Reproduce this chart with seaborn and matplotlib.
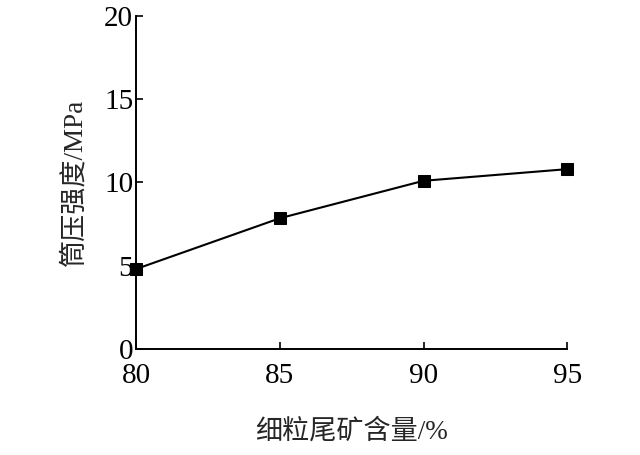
import numpy as np
import pandas as pd
import matplotlib
matplotlib.use("Agg")
import matplotlib.pyplot as plt
import seaborn as sns

# fine tailings content (%) vs cylinder compressive strength (MPa)
fine_content = [80, 85, 90, 95]
strength = [4.8, 7.85, 10.1, 10.8]
x_ticks = [80, 85, 90, 95]
y_ticks = [0, 5, 10, 15, 20]


def main():
    df = pd.DataFrame({"content": fine_content, "strength": strength})

    sns.set_style("ticks")
    plt.rcParams['font.family'] = ['Liberation Serif', 'Noto Sans CJK SC']
    plt.rcParams['xtick.direction'] = 'in'
    plt.rcParams['ytick.direction'] = 'in'

    fig = plt.figure(figsize=(6.4, 4.55), dpi=100)
    ax = fig.add_axes([0.2125, 0.233, 0.674, 0.732])

    sns.lineplot(data=df, x="content", y="strength", ax=ax, color="black",
                 linewidth=1.5, marker="s", markersize=8, markeredgecolor="black",
                 clip_on=False)

    ax.set_xlim(80, 95)
    ax.set_ylim(0, 20)
    ax.set_xticks(x_ticks)
    ax.set_yticks(y_ticks)
    ax.tick_params(labelsize=21, length=5, width=1.2, colors="black")
    ax.tick_params(axis="x", pad=10)
    ax.tick_params(axis="y", pad=2)
    for side in ["top", "right"]:
        ax.spines[side].set_visible(False)
    for side in ["left", "bottom"]:
        ax.spines[side].set_linewidth(1.4)
        ax.spines[side].set_color("black")
    ax.patch.set_alpha(0)

    ax.set_xlabel("细粒尾矿含量/%", fontsize=19.5, labelpad=22)
    ax.set_ylabel("筒压强度/MPa", fontsize=19.5, labelpad=12)

    fig.savefig("out.png", dpi=100)


if __name__ == '__main__':
    main()
